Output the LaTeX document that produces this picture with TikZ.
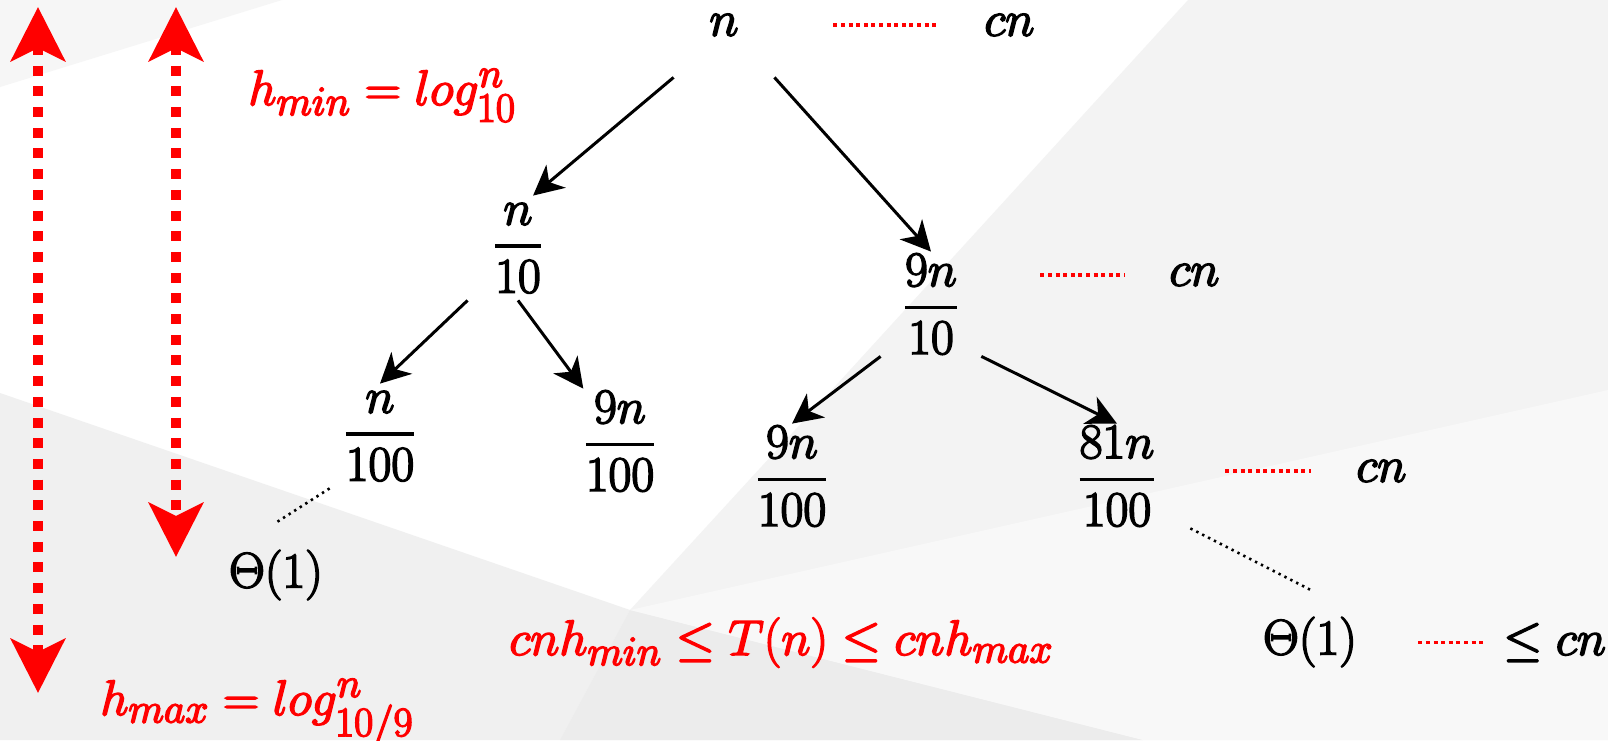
\documentclass[tikz,border=0pt]{standalone}
\usepackage{amsmath}
\usepackage{tikz}
\usetikzlibrary{arrows.meta,calc}
\definecolor{Ink}{HTML}{000000}
\definecolor{Hot}{HTML}{FF0000}
\definecolor{BgA}{HTML}{F6F6F6}
\definecolor{BgB}{HTML}{F3F3F3}
\definecolor{BgC}{HTML}{F0F0F0}
\definecolor{BgD}{HTML}{ECECEC}
\definecolor{BgE}{HTML}{F8F8F8}
\newcommand{\vfrac}[2]{\genfrac{}{}{1.6pt}{0}{#1}{#2}}
\tikzset{
  heavy/.style={execute at begin node={\special{pdf:literal direct 2 Tr 0.8 w}}},
  tn/.style={heavy,minimum width=50pt,minimum height=52pt,inner sep=0pt},
  wide/.style={tn,minimum width=73pt},
  lab/.style={heavy,inner sep=0pt},
  redlab/.style={lab,text=Hot},
  arr/.style={-{Stealth[length=15pt,width=15pt,inset=4.5pt]},line width=1.5pt,draw=Ink},
  level/.style={draw=Hot,line width=1.6pt,dash pattern=on 2pt off 1.8pt},
  trail/.style={draw=Ink,line width=1.3pt,dash pattern=on 1.2pt off 2.1pt},
  hbar/.style={{Stealth[length=27pt,width=27pt,inset=6.5pt]}-{Stealth[length=27pt,width=27pt,inset=6.5pt]},
    draw=Hot,line width=5pt,dash pattern=on 5pt off 5.35pt}
}
\begin{document}
\begin{tikzpicture}[x=0.5pt,y=-0.5pt,font=\Huge]
    \useasboundingbox (0,0) rectangle (1608,740);
    \fill[white] (0,0) rectangle (1608,740);
    \fill[BgA] (0,0) -- (282,0) -- (0,87) -- cycle;
    \fill[BgB] (1188,0) -- (1608,0) -- (1608,740) -- (560,740) -- (630,610) -- (850,370) -- cycle;
    \fill[BgC] (0,393) -- (630,610) -- (560,740) -- (0,740) -- cycle;
    \fill[BgD] (630,610) -- (1143,740) -- (560,740) -- cycle;
    \fill[BgE] (630,610) -- (1608,390) -- (1608,740) -- (1143,740) -- cycle;

    \node[tn] (root) at (724,25) {$n$};
    \node[tn] (n10) at (518,248) {$\vfrac{n}{10}$};
    \node[tn] (n9_10) at (931,304) {$\vfrac{9n}{10}$};
    \node[tn] (n100) at (380,436) {$\vfrac{n}{100}$};
    \node[tn] (n9_100l) at (620,441) {$\vfrac{9n}{100}$};
    \node[tn] (n9_100r) at (792,476) {$\vfrac{9n}{100}$};
    \node[wide] (n81) at (1117,476) {$\vfrac{81n}{100}$};
    \node[tn] (thl) at (276,575) {$\Theta(1)$};
    \node[tn] (thr) at (1310,642) {$\Theta(1)$};

    \node[lab,anchor=west] (cnA) at (984,25) {$cn$};
    \node[lab,anchor=west] (cnB) at (1169,275) {$cn$};
    \node[lab,anchor=west] (cnC) at (1356,471) {$cn$};
    \node[lab,anchor=base west] (lecn) at (1503,655) {$\le cn$};

    \node[redlab,anchor=base west] (hmin) at (248,105) {$h_{min} = log^n_{10}$};
    \node[redlab,anchor=base west] (hmax) at (100,715) {$h_{max} = log^n_{10/9}$};
    \node[redlab,anchor=base west] (bound) at (509,655) {$cnh_{min} \le T(n) \le cnh_{max}$};

    \coordinate (maxtop) at (38,7);
    \coordinate (maxbot) at (38,693);
    \coordinate (mintop) at (176,7);
    \coordinate (minbot) at (176,557);
    \draw[hbar] (maxtop) -- (maxbot);
    \draw[hbar] (mintop) -- (minbot);

    \draw[arr] (root.south west) -- (n10.74);
    \draw[arr] (root.south east) -- (n9_10.north);
    \draw[arr] (n10.south west) -- (n100.north);
    \draw[arr] (n10.south) -- (n9_100l.125);
    \draw[arr] (n9_10.south west) -- (n9_100r.north);
    \draw[arr] (n9_10.south east) -- (n81.north);
    \draw[trail] (n100.south west) -- (thl.north);
    \draw[trail] (n81.south east) -- (thr.north);

    \draw[level,shorten <=29.5pt,shorten >=22.5pt] (root.east |- cnA.west) -- (cnA.west);
    \draw[level,shorten <=29.5pt,shorten >=22pt] (n9_10.east |- cnB.west) -- (cnB.west);
    \draw[level,shorten <=17.5pt,shorten >=22.5pt] (n81.east |- cnC.west) -- (cnC.west);
    \draw[level,shorten <=29pt,shorten >=10pt] (thr.east |- lecn.west) -- (lecn.west);
  \end{tikzpicture}
\end{document}
